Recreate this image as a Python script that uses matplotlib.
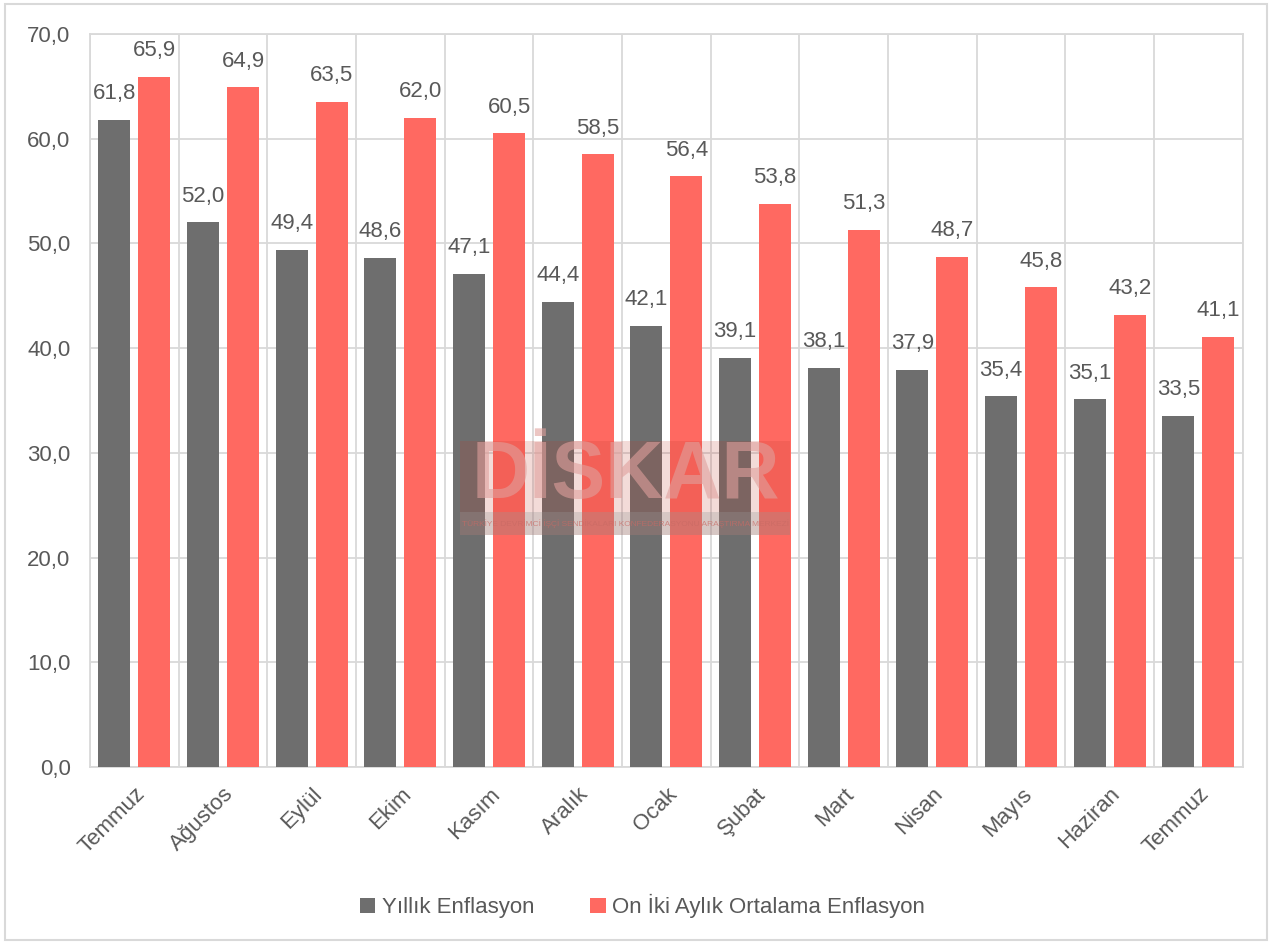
import matplotlib.pyplot as plt
from matplotlib.patches import Rectangle
import numpy as np

# Aylar ve enflasyon oranları
months = ["Temmuz", "Ağustos", "Eylül", "Ekim", "Kasım", "Aralık", "Ocak",
          "Şubat", "Mart", "Nisan", "Mayıs", "Haziran", "Temmuz"]
annual = [61.8, 52.0, 49.4, 48.6, 47.1, 44.4, 42.1, 39.1, 38.1, 37.9, 35.4, 35.1, 33.5]
avg12 = [65.9, 64.9, 63.5, 62.0, 60.5, 58.5, 56.4, 53.8, 51.3, 48.7, 45.8, 43.2, 41.1]

gray = "#6E6E6E"
red = "#FF6961"
txt = "#595959"
gridc = "#D9D9D9"

plt.rcParams["font.family"] = ["Liberation Sans", "DejaVu Sans"]

fig = plt.figure(figsize=(12.72, 9.42), dpi=100)
ax = fig.add_axes([0.0708, 0.1858, 0.9062, 0.7781])

x = np.arange(len(months))
w = 0.36
off = 0.225
b1 = ax.bar(x - off, annual, w, color=gray, label="Yıllık Enflasyon", zorder=3)
b2 = ax.bar(x + off, avg12, w, color=red, label="On İki Aylık Ortalama Enflasyon", zorder=3)

for bars in (b1, b2):
    for r in bars:
        h = r.get_height()
        ax.text(r.get_x() + r.get_width() / 2, h + 1.5, f"{h:.1f}".replace(".", ","),
                ha="center", va="bottom", fontsize=16, color=txt)

ax.set_xlim(-0.5, len(months) - 0.5)
ax.set_ylim(0, 70)
ax.set_yticks(np.arange(0, 71, 10))
ax.set_yticklabels([f"{v:.1f}".replace(".", ",") for v in np.arange(0, 71, 10)])
ax.set_xticks(x)
ax.set_xticklabels(months, rotation=45, ha="right", rotation_mode="anchor")
ax.set_xticks(np.arange(-0.5, len(months), 1), minor=True)
ax.tick_params(axis="both", which="both", length=0, colors=txt, labelsize=16)
ax.tick_params(axis="y", pad=14)
ax.tick_params(axis="x", pad=12)
ax.grid(axis="y", which="major", color=gridc, linewidth=1.3, zorder=0)
ax.grid(axis="x", which="minor", color=gridc, linewidth=1.3, zorder=0)
for s in ax.spines.values():
    s.set_color(gridc)
    s.set_linewidth(1.3)

# Dış çerçeve
fig.patches.append(Rectangle((0.004, 0.002), 0.992, 0.994, transform=fig.transFigure,
                             fill=False, edgecolor=gridc, linewidth=1.5))

# Filigran
fig.patches.append(Rectangle((0.362, 0.432), 0.259, 0.1, transform=fig.transFigure,
                             facecolor="#C0392B", alpha=0.18, edgecolor="none", zorder=10))
fig.patches.append(Rectangle((0.362, 0.432), 0.259, 0.024, transform=fig.transFigure,
                             facecolor="#999999", alpha=0.3, edgecolor="none", zorder=10))
fig.text(0.492, 0.494, "DİSKAR", ha="center", va="center", fontsize=58, fontweight="bold",
         color="#E0A09C", alpha=0.6, zorder=11)
fig.text(0.492, 0.444, "TÜRKİYE DEVRİMCİ İŞÇİ SENDİKALARI KONFEDERASYONU ARAŞTIRMA MERKEZİ",
         ha="center", va="center", fontsize=6, color="#C96A64", alpha=0.7, zorder=11)

fig.legend(loc="lower center", bbox_to_anchor=(0.505, 0.004), ncol=2, frameon=False,
           fontsize=16, labelcolor=txt, handlelength=0.7, handleheight=0.7,
           handletextpad=0.3, columnspacing=2.5)

fig.savefig("out.png", dpi=100)
